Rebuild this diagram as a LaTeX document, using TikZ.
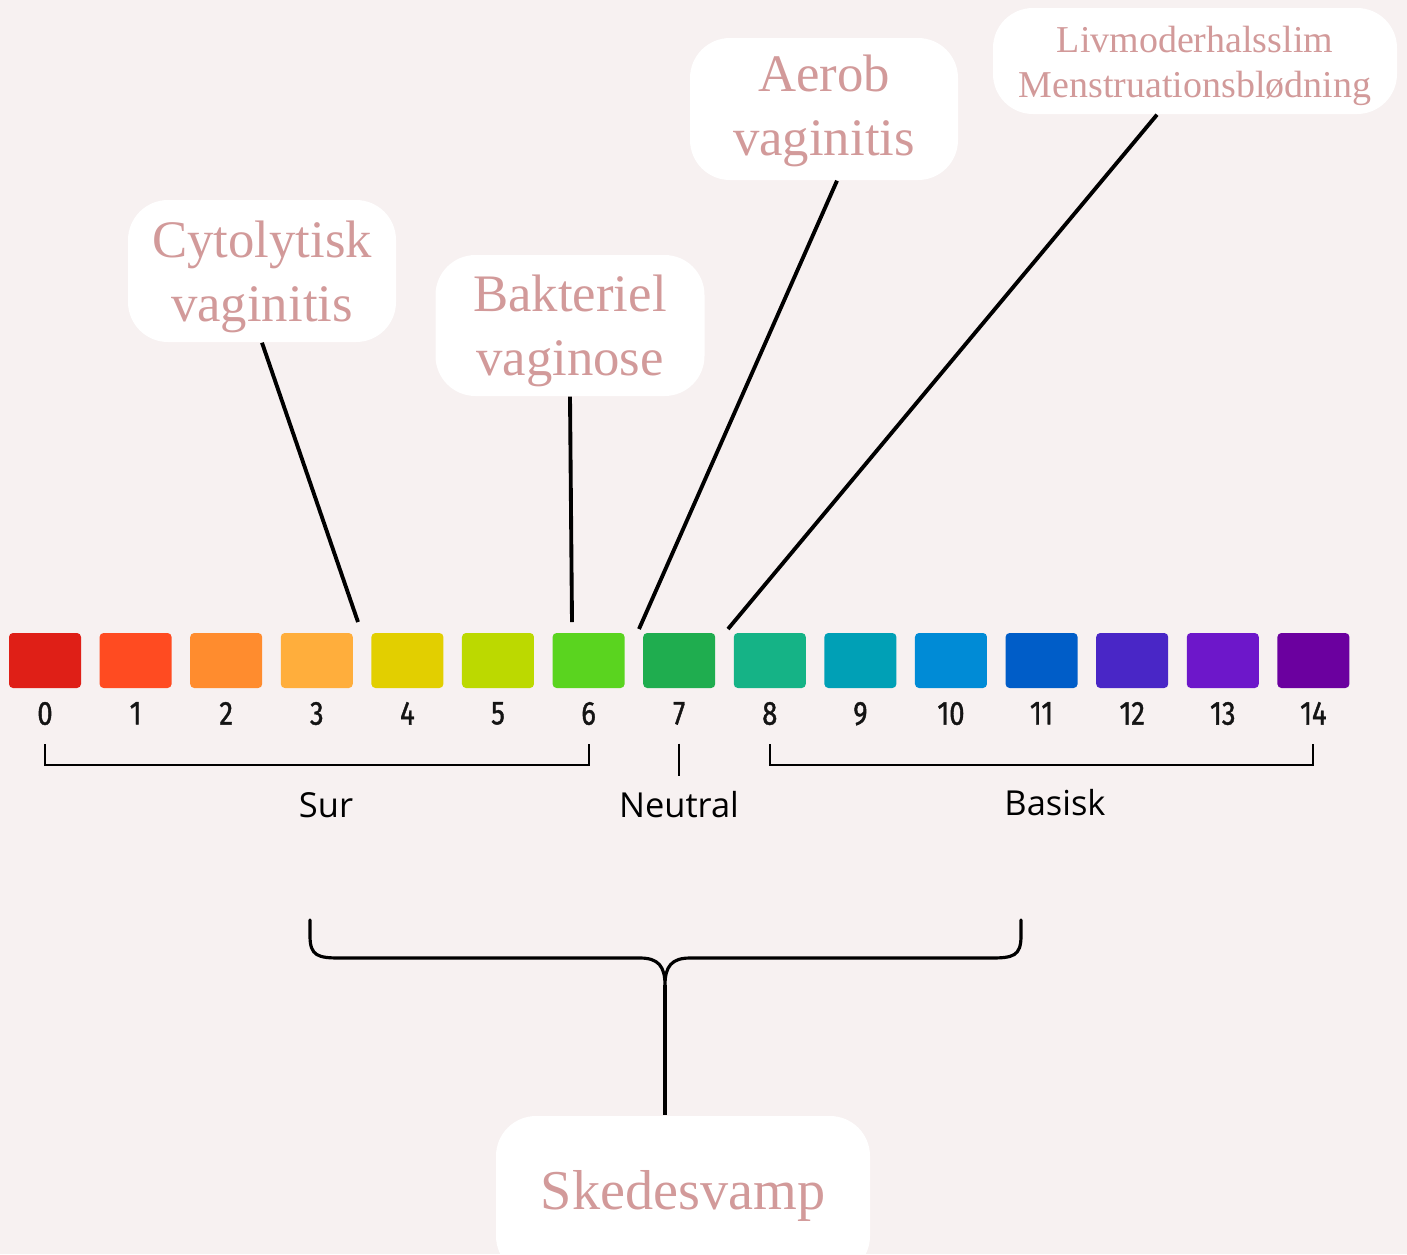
\documentclass[tikz,border=0pt]{standalone}
\usepackage{fontspec}
\setmainfont{Liberation Serif}
\newfontfamily\labelfont{Open Sans}
\newfontfamily\numfont[FakeStretch=0.82, FakeBold=1.2]{Fira Sans}
\usepackage{tikz}
\usetikzlibrary{positioning}

\definecolor{bggray}{HTML}{F7F1F1}
\definecolor{rosetext}{HTML}{D29A9A}
\definecolor{ph0}{HTML}{DF1F17}
\definecolor{ph1}{HTML}{FF4B21}
\definecolor{ph2}{HTML}{FF8C2E}
\definecolor{ph3}{HTML}{FFAE3C}
\definecolor{ph4}{HTML}{E2CF00}
\definecolor{ph5}{HTML}{BCD900}
\definecolor{ph6}{HTML}{5AD41F}
\definecolor{ph7}{HTML}{1FAD4F}
\definecolor{ph8}{HTML}{15B386}
\definecolor{ph9}{HTML}{00A0B6}
\definecolor{ph10}{HTML}{008BD6}
\definecolor{ph11}{HTML}{005DC8}
\definecolor{ph12}{HTML}{4926C6}
\definecolor{ph13}{HTML}{6D17CA}
\definecolor{ph14}{HTML}{6B009F}

\begin{document}
\begin{tikzpicture}[
	x=0.1mm, y=-0.1mm,
	node distance=1.86mm,
	box/.style={fill=white, rounded corners=4mm, align=center, inner sep=0pt, text=rosetext, font=\fontsize{15}{18.2}\selectfont},
	phsq/.style={rectangle, rounded corners=0.4mm, minimum width=7.2mm, minimum height=5.5mm, inner sep=0pt, outer sep=0pt},
	num/.style={inner sep=0pt, outer sep=0pt, text=black!92, font=\numfont\fontsize{9.5}{10}\selectfont},
	lbl/.style={inner sep=0pt, font=\labelfont\fontsize{9.8}{11}\selectfont},
	conn/.style={line width=1.1pt},
	bracket/.style={line width=0.6pt}
	]
	
	% Fondo
	\fill[bggray] (0,0) rectangle (1407,1254);
	\useasboundingbox (0,0) rectangle (1407,1254);
	
	% Escala de pH
	\node[phsq, fill=ph0] (sq0) at (45,660.5) {};
	\node[phsq, fill=ph1, right=of sq0] (sq1) {};
	\node[phsq, fill=ph2, right=of sq1] (sq2) {};
	\node[phsq, fill=ph3, right=of sq2] (sq3) {};
	\node[phsq, fill=ph4, right=of sq3] (sq4) {};
	\node[phsq, fill=ph5, right=of sq4] (sq5) {};
	\node[phsq, fill=ph6, right=of sq5] (sq6) {};
	\node[phsq, fill=ph7, right=of sq6] (sq7) {};
	\node[phsq, fill=ph8, right=of sq7] (sq8) {};
	\node[phsq, fill=ph9, right=of sq8] (sq9) {};
	\node[phsq, fill=ph10, right=of sq9] (sq10) {};
	\node[phsq, fill=ph11, right=of sq10] (sq11) {};
	\node[phsq, fill=ph12, right=of sq11] (sq12) {};
	\node[phsq, fill=ph13, right=of sq12] (sq13) {};
	\node[phsq, fill=ph14, right=of sq13] (sq14) {};
	
	% Numeros
	\node[num, below=1.4mm of sq0] (n0) {0};
	\node[num, below=1.4mm of sq1] (n1) {1};
	\node[num, below=1.4mm of sq2] (n2) {2};
	\node[num, below=1.4mm of sq3] (n3) {3};
	\node[num, below=1.4mm of sq4] (n4) {4};
	\node[num, below=1.4mm of sq5] (n5) {5};
	\node[num, below=1.4mm of sq6] (n6) {6};
	\node[num, below=1.4mm of sq7] (n7) {7};
	\node[num, below=1.4mm of sq8] (n8) {8};
	\node[num, below=1.4mm of sq9] (n9) {9};
	\node[num, below=1.4mm of sq10] (n10) {10};
	\node[num, below=1.4mm of sq11] (n11) {11};
	\node[num, below=1.4mm of sq12] (n12) {12};
	\node[num, below=1.4mm of sq13] (n13) {13};
	\node[num, below=1.4mm of sq14] (n14) {14};
	
	% Corchetes
	\draw[bracket] ([yshift=-1.9mm]n0.south) -- ++(0,21) -| ([yshift=-1.9mm]n6.south);
	\draw[bracket] ([yshift=-1.9mm]n7.south) -- ++(0,32);
	\draw[bracket] ([yshift=-1.9mm]n8.south) -- ++(0,21) -| ([yshift=-1.9mm]n14.south);
	
	\node[lbl] (sur) at (326,805) {Sur};
	\node[lbl] (neutral) at (679,805) {Neutral};
	\node[lbl] (basisk) at (1055,803) {Basisk};
	
	% Cajas
	\node[box, minimum width=26.8mm, minimum height=14.2mm] (cyto) at (262,271)
	{\rule{0pt}{4.8mm}Cytolytisk\\vaginitis};
	
	\node[box, minimum width=26.9mm, minimum height=14.1mm] (bakt) at (570,325.5)
	{\rule{0pt}{4.8mm}Bakteriel\\vaginose};
	
	\node[box, minimum width=26.8mm, minimum height=14.2mm] (aerob) at (824,109)
	{\rule{0pt}{4mm}Aerob\\vaginitis};
	
	\node[box, minimum width=40.4mm, minimum height=10.6mm, font=\fontsize{10.8}{12.8}\selectfont] (livmoder) at (1195,61)
	{\rule{0pt}{3.6mm}Livmoderhalsslim\\Menstruationsblødning};
	
	\node[box, minimum width=37.4mm, minimum height=16mm, font=\fontsize{16}{19}\selectfont] (skede) at (683,1196)
	{Skedesvamp};
	
	% Lineas
	\coordinate (cytoend) at (358,622);
	\coordinate (baktend) at (572,622);
	\coordinate (aerobend) at (639,629);
	\coordinate (livend) at (728,629);
	
	\draw[conn] (cyto.south) -- (cytoend);
	\draw[conn] (bakt.south) -- (baktend);
	\draw[conn] ([xshift=1.3mm]aerob.south) -- (aerobend);
	\draw[conn] ([xshift=-3.8mm]livmoder.south) -- (livend);
	
	% Llave
	\coordinate (bl) at (310,920);
	\coordinate (br) at (1021,920);
	\coordinate (tip) at (665,985);
	\draw[line width=0.9pt, line cap=round]
	(bl) -- (310,936) .. controls (310,956) and (318,958) .. (340,958)
	-- (640,958) .. controls (658,958) and (665,966) .. (tip)
	.. controls (665,966) and (672,958) .. (690,958)
	-- (991,958) .. controls (1013,958) and (1021,956) .. (1021,936) -- (br);
	\draw[conn] (tip) -- (tip |- skede.north);
	
\end{tikzpicture}
\end{document}
